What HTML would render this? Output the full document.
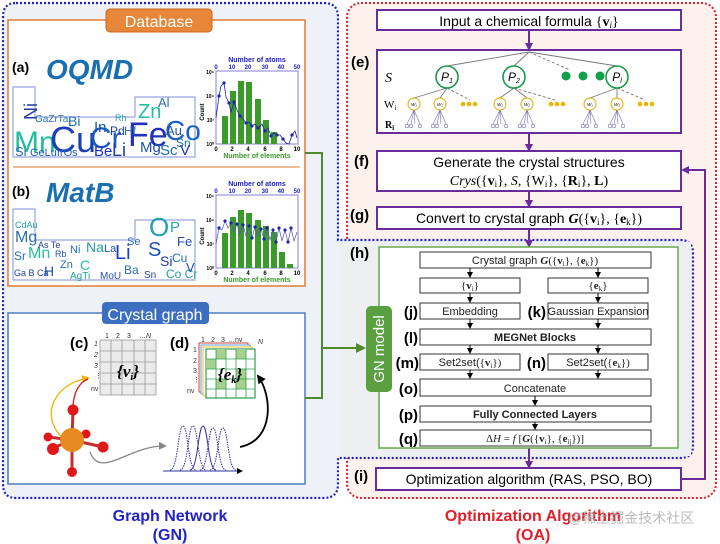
<!DOCTYPE html>
<html><head><meta charset="utf-8"><style>
html,body{margin:0;padding:0;background:#fff}
svg{display:block}
text{font-family:"Liberation Sans",sans-serif}
.s{font-family:"Liberation Serif",serif}
</style></head><body>
<svg width="720" height="544" viewBox="0 0 720 544" xmlns="http://www.w3.org/2000/svg">
<defs>
<marker id="pa" markerWidth="8" markerHeight="8" refX="6" refY="4" orient="auto" markerUnits="userSpaceOnUse"><path d="M0,0 L8,4 L0,8 z" fill="#6a2c9a"/></marker>
<marker id="ba" markerWidth="6" markerHeight="6" refX="5" refY="3" orient="auto" markerUnits="userSpaceOnUse"><path d="M0,0 L6,3 L0,6 z" fill="#000"/></marker>
<marker id="ga" markerWidth="10" markerHeight="10" refX="8" refY="5" orient="auto" markerUnits="userSpaceOnUse"><path d="M0,0 L10,5 L0,10 z" fill="#4e8a2e"/></marker>
<marker id="gr" markerWidth="8" markerHeight="8" refX="6" refY="4" orient="auto" markerUnits="userSpaceOnUse"><path d="M0,0 L8,4 L0,8 z" fill="#888"/></marker>
<marker id="ye" markerWidth="8" markerHeight="8" refX="6" refY="4" orient="auto" markerUnits="userSpaceOnUse"><path d="M0,0 L8,4 L0,8 z" fill="#f0b400"/></marker>
<marker id="bk" markerWidth="9" markerHeight="9" refX="7" refY="4.5" orient="auto" markerUnits="userSpaceOnUse"><path d="M0,0 L9,4.5 L0,9 z" fill="#000"/></marker>
</defs>
<!-- red OA panel -->
<rect x="347" y="3" width="369" height="495" rx="14" fill="#fcf1ec" stroke="#e0202a" stroke-width="2" stroke-dasharray="2,2"/>
<!-- blue GN panel -->
<path d="M16,3 H324 Q338,3 338,17 V240 H680 Q693,240 693,253 V446 Q693,458 680,458 H338 V484 Q338,498 324,498 H16 Q3,498 3,484 V17 Q3,3 16,3 Z" fill="#eef2f8" stroke="#2323b8" stroke-width="2.2" stroke-dasharray="2,2"/>
<rect x="340" y="242" width="351" height="214" fill="#eeeff1"/>
<!-- Database box -->
<rect x="8" y="20" width="297" height="266" fill="#fff" stroke="#e07b39" stroke-width="1.5"/>
<line x1="13" y1="167" x2="300" y2="167" stroke="#e8a577" stroke-width="1.5"/>
<rect x="106" y="9" width="106" height="23" rx="4" fill="#e8873a" stroke="#c9661c"/>
<text x="159" y="27" font-size="16" fill="#fff" text-anchor="middle">Database</text>
<text x="12" y="72" font-size="14" font-weight="bold">(a)</text>
<text x="46" y="79" font-size="28" font-weight="bold" font-style="italic" fill="#1a6fb0">OQMD</text>
<text x="12" y="196" font-size="14" font-weight="bold">(b)</text>
<text x="46" y="202" font-size="28" font-weight="bold" font-style="italic" fill="#1a6fb0">MatB</text>
<!-- word clouds outline -->
<path d="M13,87 H35 V117 H135 V97 H195 V157 H13 Z" fill="none" stroke="#9aa3e0" stroke-width="1.2"/>
<g font-weight="normal">
<text x="14" y="152" font-size="30" fill="#20c0a0">Mn</text>
<text x="50" y="152" font-size="36" fill="#1c3fb5">Cu</text>
<text x="90" y="148" font-size="30" fill="#1a5cc0">Cr</text>
<text x="128" y="146" font-size="34" fill="#2230c0">Fe</text>
<text x="165" y="140" font-size="28" fill="#1a60c8">Co</text>
<text x="17" y="120" font-size="18" fill="#1f3ca0" transform="rotate(-90 27 110)">Ni</text>
<text x="35" y="122" font-size="10" fill="#2a70b0">GaZrTa</text>
<text x="68" y="126" font-size="14" fill="#1a6fb0">Bi</text>
<text x="94" y="132" font-size="15" fill="#2050b0">In</text>
<text x="110" y="135" font-size="12" fill="#1f3ca0">Pd</text>
<text x="124" y="135" font-size="12" fill="#2a70b0">Hf</text>
<text x="115" y="121" font-size="9" fill="#26a8a0">Rh</text>
<text x="138" y="118" font-size="20" fill="#20c0a0">Zn</text>
<text x="158" y="107" font-size="13" fill="#2a70b0">Al</text>
<text x="166" y="135" font-size="13" fill="#2050b0">Au</text>
<text x="176" y="147" font-size="12" fill="#1a6fb0">Sn</text>
<text x="15" y="156" font-size="13" fill="#2a70b0">Si</text>
<text x="30" y="156" font-size="11" fill="#1a5cc0">GeLuIrOs</text>
<text x="94" y="156" font-size="15" fill="#2230c0">Be</text>
<text x="112" y="156" font-size="18" fill="#1f3ca0">Li</text>
<text x="140" y="152" font-size="15" fill="#2050b0">Mg</text>
<text x="160" y="155" font-size="15" fill="#1a6fb0">Sc</text>
<text x="180" y="155" font-size="15" fill="#2230c0">V</text>
</g>
<path d="M13,209 H35 V240 H135 V220 H195 V280 H13 Z" fill="none" stroke="#9aa3e0" stroke-width="1.2"/>
<g>
<text x="15" y="242" font-size="16" fill="#2a70b0">Mg</text>
<text x="15" y="228" font-size="9" fill="#20a0a0">CdAu</text>
<text x="14" y="260" font-size="12" fill="#2a70b0">Sr</text>
<text x="28" y="258" font-size="16" fill="#20c0a0">Mn</text>
<text x="55" y="257" font-size="9" fill="#2050b0">Rb</text>
<text x="38" y="248" font-size="9" fill="#1f3ca0">As Te</text>
<text x="70" y="253" font-size="11" fill="#2a70b0">Ni</text>
<text x="86" y="252" font-size="14" fill="#20a0a0">Na</text>
<text x="104" y="252" font-size="11" fill="#2050b0">La</text>
<text x="115" y="259" font-size="20" fill="#1c3fb5">Li</text>
<text x="127" y="245" font-size="11" fill="#2a70b0">Se</text>
<text x="148" y="256" font-size="20" fill="#2050b0">S</text>
<text x="149" y="236" font-size="26" fill="#20a0b0">O</text>
<text x="170" y="232" font-size="15" fill="#26a8a0">P</text>
<text x="177" y="246" font-size="13" fill="#2050b0">Fe</text>
<text x="172" y="262" font-size="12" fill="#2a70b0">Cu</text>
<text x="160" y="266" font-size="14" fill="#1f3ca0">Si</text>
<text x="14" y="276" font-size="9" fill="#1f3ca0">Ga B Ca</text>
<text x="44" y="276" font-size="14" fill="#2050b0">H</text>
<text x="60" y="268" font-size="11" fill="#2a70b0">Zn</text>
<text x="80" y="270" font-size="14" fill="#20c0a0">C</text>
<text x="70" y="279" font-size="10" fill="#20a0a0">AgTi</text>
<text x="100" y="279" font-size="10" fill="#2050b0">MoU</text>
<text x="124" y="274" font-size="12" fill="#2a70b0">Ba</text>
<text x="144" y="278" font-size="10" fill="#1f3ca0">Sn</text>
<text x="166" y="278" font-size="12" fill="#20a0a0">Co Cr</text>
<text x="186" y="272" font-size="13" fill="#2050b0">V</text>
</g>
<!-- charts -->
<g id="c1">
<rect x="216" y="71" width="82" height="73" fill="#fff" stroke="#8080d0" stroke-width="1"/>
<text x="257" y="62" font-size="7" font-weight="bold" fill="#2020c0" text-anchor="middle">Number of atoms</text>
<text x="216" y="69" font-size="6" fill="#2020c0" font-weight="bold" text-anchor="middle">0</text>
<text x="232" y="69" font-size="6" fill="#2020c0" font-weight="bold" text-anchor="middle">10</text>
<text x="248" y="69" font-size="6" fill="#2020c0" font-weight="bold" text-anchor="middle">20</text>
<text x="265" y="69" font-size="6" fill="#2020c0" font-weight="bold" text-anchor="middle">30</text>
<text x="281" y="69" font-size="6" fill="#2020c0" font-weight="bold" text-anchor="middle">40</text>
<text x="297" y="69" font-size="6" fill="#2020c0" font-weight="bold" text-anchor="middle">50</text>
<text x="257" y="158" font-size="7" font-weight="bold" fill="#3a9a2a" text-anchor="middle">Number of elements</text>
<text x="216" y="151" font-size="6" font-weight="bold" text-anchor="middle">0</text><text x="232" y="151" font-size="6" font-weight="bold" text-anchor="middle">2</text><text x="248" y="151" font-size="6" font-weight="bold" text-anchor="middle">4</text><text x="265" y="151" font-size="6" font-weight="bold" text-anchor="middle">6</text><text x="281" y="151" font-size="6" font-weight="bold" text-anchor="middle">8</text><text x="297" y="151" font-size="6" font-weight="bold" text-anchor="middle">10</text>
<text x="204" y="112" font-size="6" font-weight="bold" transform="rotate(-90 204 112)" text-anchor="middle">Count</text>
<g font-size="5" font-weight="bold" text-anchor="end"><text x="214" y="146">10⁰</text><text x="214" y="122">10²</text><text x="214" y="98">10⁴</text><text x="214" y="74">10⁶</text></g>
<g fill="#3a9a2a"><rect x="222" y="116" width="6" height="28"/><rect x="230" y="91" width="6" height="53"/><rect x="238" y="81" width="6" height="63"/><rect x="246" y="82" width="6" height="62"/><rect x="255" y="99" width="6" height="45"/><rect x="263" y="120" width="6" height="24"/><rect x="271" y="132" width="6" height="12"/></g>
<polyline points="216,118 219,96 221,86 224,83 226,97 229,103 231,112 234,102 237,110 240,116 243,119 246,123 249,122 252,126 255,124 258,128 262,124 265,131 268,128 271,136 274,133 277,135 280,135 283,139 286,143 289,144 292,135 295,131 297,138" fill="none" stroke="#2222aa" stroke-width="0.8"/>
<g fill="#2222aa"><circle cx="219" cy="96" r="1.6"/><circle cx="224" cy="83" r="1.6"/><circle cx="229" cy="103" r="1.6"/><circle cx="234" cy="102" r="1.6"/><circle cx="240" cy="116" r="1.6"/><circle cx="246" cy="123" r="1.6"/><circle cx="252" cy="126" r="1.6"/><circle cx="258" cy="128" r="1.6"/><circle cx="265" cy="131" r="1.6"/><circle cx="271" cy="136" r="1.6"/><circle cx="277" cy="135" r="1.6"/><circle cx="283" cy="139" r="1.6"/><circle cx="292" cy="135" r="1.6"/></g>
</g>
<g transform="translate(0,124)">
<rect x="216" y="71" width="82" height="73" fill="#fff" stroke="#8080d0" stroke-width="1"/>
<text x="257" y="62" font-size="7" font-weight="bold" fill="#2020c0" text-anchor="middle">Number of atoms</text>
<text x="216" y="69" font-size="6" fill="#2020c0" font-weight="bold" text-anchor="middle">0</text><text x="232" y="69" font-size="6" fill="#2020c0" font-weight="bold" text-anchor="middle">10</text><text x="248" y="69" font-size="6" fill="#2020c0" font-weight="bold" text-anchor="middle">20</text><text x="265" y="69" font-size="6" fill="#2020c0" font-weight="bold" text-anchor="middle">30</text><text x="281" y="69" font-size="6" fill="#2020c0" font-weight="bold" text-anchor="middle">40</text><text x="297" y="69" font-size="6" fill="#2020c0" font-weight="bold" text-anchor="middle">50</text>
<text x="257" y="158" font-size="7" font-weight="bold" fill="#3a9a2a" text-anchor="middle">Number of elements</text>
<text x="216" y="151" font-size="6" font-weight="bold" text-anchor="middle">0</text><text x="232" y="151" font-size="6" font-weight="bold" text-anchor="middle">2</text><text x="248" y="151" font-size="6" font-weight="bold" text-anchor="middle">4</text><text x="265" y="151" font-size="6" font-weight="bold" text-anchor="middle">6</text><text x="281" y="151" font-size="6" font-weight="bold" text-anchor="middle">8</text><text x="297" y="151" font-size="6" font-weight="bold" text-anchor="middle">10</text>
<text x="204" y="112" font-size="6" font-weight="bold" transform="rotate(-90 204 112)" text-anchor="middle">Count</text>
<g font-size="5" font-weight="bold" text-anchor="end"><text x="214" y="146">10⁰</text><text x="214" y="122">10²</text><text x="214" y="98">10⁴</text><text x="214" y="74">10⁶</text></g>
<g fill="#3a9a2a"><rect x="222" y="109" width="6" height="35"/><rect x="230" y="93" width="6" height="51"/><rect x="238" y="86" width="6" height="58"/><rect x="246" y="89" width="6" height="55"/><rect x="255" y="96" width="6" height="48"/><rect x="263" y="102" width="6" height="42"/><rect x="271" y="108" width="6" height="36"/><rect x="279" y="128" width="6" height="16"/><rect x="287" y="140" width="6" height="4"/></g>
<polyline points="216,120 219,104 222,106 225,97 228,104 231,99 234,108 237,100 240,110 243,101 246,112 249,102 252,114 255,103 258,112 261,105 264,115 267,104 270,116 273,106 276,118 279,104 282,117 285,106 288,118 291,104 294,117 297,108" fill="none" stroke="#5555bb" stroke-width="0.7"/>
<g fill="#2222aa"><circle cx="219" cy="104" r="1.6"/><circle cx="225" cy="97" r="1.6"/><circle cx="231" cy="99" r="1.6"/><circle cx="237" cy="100" r="1.6"/><circle cx="243" cy="101" r="1.6"/><circle cx="249" cy="102" r="1.6"/><circle cx="255" cy="103" r="1.6"/><circle cx="261" cy="105" r="1.6"/><circle cx="267" cy="104" r="1.6"/><circle cx="273" cy="106" r="1.6"/><circle cx="279" cy="104" r="1.6"/><circle cx="285" cy="106" r="1.6"/><circle cx="291" cy="104" r="1.6"/><circle cx="252" cy="114" r="1.6"/><circle cx="264" cy="115" r="1.6"/><circle cx="276" cy="118" r="1.6"/><circle cx="288" cy="118" r="1.6"/></g>
</g>
<!-- Crystal graph box -->
<rect x="8" y="313" width="297" height="171" fill="#fff" stroke="#4a7cc4" stroke-width="1.5"/>
<rect x="102" y="302" width="107" height="22" rx="4" fill="#3c6fbf"/>
<text x="155" y="320" font-size="16" fill="#fff" text-anchor="middle">Crystal graph</text>
<text x="70" y="348" font-size="15" font-weight="bold">(c)</text>
<text x="170" y="348" font-size="15" font-weight="bold">(d)</text>
<g font-size="7" fill="#333"><text x="105" y="338">1</text><text x="116" y="338">2</text><text x="127" y="338">3</text><text x="139" y="338">…</text><text x="146" y="338" font-style="italic">N</text><text x="94" y="346" font-style="italic">1</text><text x="94" y="357" font-style="italic">2</text><text x="94" y="368" font-style="italic">3</text><text x="95" y="378">⋮</text><text x="91" y="391">nv</text></g>
<rect x="100" y="340" width="56" height="55" fill="#ebebeb" stroke="#999" stroke-width="0.8"/>
<g stroke="#999" stroke-width="0.8"><line x1="111" y1="340" x2="111" y2="395"/><line x1="122" y1="340" x2="122" y2="395"/><line x1="134" y1="340" x2="134" y2="395"/><line x1="145" y1="340" x2="145" y2="395"/><line x1="100" y1="351" x2="156" y2="351"/><line x1="100" y1="362" x2="156" y2="362"/><line x1="100" y1="373" x2="156" y2="373"/><line x1="100" y1="384" x2="156" y2="384"/></g>
<text x="128" y="377" class="s" font-size="17" font-style="italic" font-weight="bold" text-anchor="middle">{v<tspan font-size="10" dy="3">i</tspan><tspan dy="-3">}</tspan></text>
<g font-size="7" fill="#333"><text x="201" y="342">1</text><text x="211" y="342">2</text><text x="221" y="342">3</text><text x="228" y="342">…</text><text x="235" y="342">nv</text><text x="258" y="344" font-style="italic">N</text><text x="193" y="352">1</text><text x="193" y="363">2</text><text x="193" y="373">3</text><text x="193" y="382">⋮</text><text x="187" y="393">nv</text></g>
<rect x="199" y="343" width="49" height="49" fill="#fff" stroke="#d04040"/>
<rect x="201" y="345" width="49" height="49" fill="#fff" stroke="#60a0d8"/>
<rect x="203" y="347" width="49" height="49" fill="#fff" stroke="#e8c040"/>
<rect x="206" y="349" width="49" height="49" fill="#fff" stroke="#30a050" stroke-width="1.2"/>
<g fill="#a8d090"><rect x="216" y="349" width="10" height="10"/><rect x="236" y="349" width="10" height="10"/><rect x="206" y="359" width="10" height="10"/><rect x="236" y="369" width="10" height="10"/><rect x="216" y="379" width="10" height="10"/><rect x="236" y="379" width="10" height="10"/></g>
<g stroke="#30a050" stroke-width="0.8"><line x1="216" y1="349" x2="216" y2="398"/><line x1="226" y1="349" x2="226" y2="398"/><line x1="236" y1="349" x2="236" y2="398"/><line x1="246" y1="349" x2="246" y2="398"/><line x1="206" y1="359" x2="255" y2="359"/><line x1="206" y1="369" x2="255" y2="369"/><line x1="206" y1="379" x2="255" y2="379"/><line x1="206" y1="389" x2="255" y2="389"/></g>
<text x="230" y="380" class="s" font-size="17" font-style="italic" font-weight="bold" text-anchor="middle">{e<tspan font-size="10" dy="3">k</tspan><tspan dy="-3">}</tspan></text>
<!-- molecule -->
<path d="M65,440 C40,420 50,385 88,378" fill="none" stroke="#f0b400" stroke-width="1.3" marker-end="url(#ye)"/>
<path d="M73,408 C73,392 80,382 88,379" fill="none" stroke="#d02020" stroke-width="1.3"/>
<path d="M90,452 C100,480 130,445 165,446" fill="none" stroke="#888" stroke-width="1.3" marker-end="url(#gr)"/>
<path d="M240,447 C275,440 272,395 258,376" fill="none" stroke="#000" stroke-width="1.8" marker-end="url(#bk)"/>
<g stroke="#c03030" stroke-width="3"><line x1="72" y1="440" x2="73" y2="410"/><line x1="72" y1="440" x2="48" y2="437"/><line x1="72" y1="440" x2="86" y2="435"/><line x1="72" y1="440" x2="53" y2="448"/><line x1="72" y1="440" x2="103" y2="447"/><line x1="72" y1="440" x2="72" y2="472"/></g>
<g fill="#e01818"><circle cx="73" cy="410" r="5.5"/><circle cx="48" cy="437" r="4.5"/><circle cx="86" cy="434" r="4.5"/><circle cx="53" cy="449" r="6"/><circle cx="103" cy="447" r="5.5"/><circle cx="72" cy="472" r="5"/></g>
<circle cx="72" cy="440" r="12" fill="#e88a20"/>
<g fill="none" stroke="#3030a0" stroke-width="1" stroke-dasharray="1.5,1">
<path d="M170,470 C178,470 178,426 183,426 C188,426 188,470 196,470"/>
<path d="M180,470 C188,470 188,426 193,426 C198,426 198,470 206,470"/>
<path d="M190,470 C198,470 198,426 203,426 C208,426 208,470 216,470" stroke-dasharray="none"/>
<path d="M200,470 C208,470 208,428 213,428 C218,428 218,470 226,470"/>
<path d="M210,470 C218,470 218,428 223,428 C228,428 228,470 236,470"/>
</g>
<line x1="163" y1="471" x2="242" y2="471" stroke="#3030a0" stroke-width="1" marker-end="url(#ba)"/>
<!-- green connectors -->
<polyline points="305,153 322,153 322,398 305,398" fill="none" stroke="#4e8a2e" stroke-width="2"/>
<line x1="322" y1="348" x2="364" y2="348" stroke="#4e8a2e" stroke-width="2" marker-end="url(#ga)"/>
<!-- right column -->
<g fill="#fff" stroke="#6a2c9a" stroke-width="2">
<rect x="377" y="10" width="304" height="20"/>
<rect x="377" y="50" width="304" height="83"/>
<rect x="377" y="151" width="304" height="40"/>
<rect x="377" y="207" width="304" height="22"/>
<rect x="376" y="468" width="305" height="22"/>
</g>
<text x="529" y="26" font-size="14" text-anchor="middle">Input a chemical formula <tspan class="s">{<tspan font-weight="bold">v</tspan><tspan font-size="9" font-style="italic" dy="2">i</tspan><tspan dy="-2">}</tspan></tspan></text>
<text x="529" y="167" font-size="14" text-anchor="middle">Generate the crystal structures</text>
<text x="529" y="185" font-size="14" class="s" text-anchor="middle"><tspan font-style="italic">Crys</tspan>({<tspan font-weight="bold">v</tspan><tspan font-size="9" dy="2">i</tspan><tspan dy="-2">}, </tspan><tspan font-style="italic">S</tspan>, {W<tspan font-size="9" dy="2">i</tspan><tspan dy="-2">}, {</tspan><tspan font-weight="bold">R</tspan><tspan font-size="9" dy="2">i</tspan><tspan dy="-2">}, </tspan><tspan font-weight="bold">L</tspan>)</text>
<text x="529" y="223" font-size="14" text-anchor="middle">Convert to crystal graph <tspan class="s" font-weight="bold" font-style="italic">G</tspan><tspan class="s">({<tspan font-weight="bold">v</tspan><tspan font-size="9" dy="2">i</tspan><tspan dy="-2">}, {</tspan><tspan font-weight="bold">e</tspan><tspan font-size="9" dy="2">k</tspan><tspan dy="-2">})</tspan></tspan></text>
<text x="529" y="484" font-size="14" text-anchor="middle">Optimization algorithm (RAS, PSO, BO)</text>
<g font-size="15" font-weight="bold"><text x="351" y="67">(e)</text><text x="354" y="166">(f)</text><text x="350" y="220">(g)</text><text x="350" y="258">(h)</text><text x="354" y="481">(i)</text></g>
<!-- purple arrows -->
<g stroke="#6a2c9a" stroke-width="2" fill="none">
<line x1="529" y1="30" x2="529" y2="49" marker-end="url(#pa)"/>
<line x1="529" y1="133" x2="529" y2="150" marker-end="url(#pa)"/>
<line x1="529" y1="191" x2="529" y2="206" marker-end="url(#pa)"/>
<line x1="529" y1="229" x2="529" y2="246" marker-end="url(#pa)"/>
<line x1="529" y1="448" x2="529" y2="467" marker-end="url(#pa)"/>
<polyline points="681,479 705,479 705,170 683,170" marker-end="url(#pa)"/>
</g>
<!-- tree e -->
<g stroke="#777" stroke-width="0.9" fill="none">
<line x1="529" y1="52" x2="447" y2="66"/><line x1="529" y1="52" x2="514" y2="66"/><line x1="529" y1="52" x2="617" y2="66"/><line x1="529" y1="52" x2="570" y2="70" stroke-dasharray="3,2"/>
<line x1="447" y1="88" x2="414" y2="98"/><line x1="447" y1="88" x2="440" y2="98"/><line x1="447" y1="88" x2="470" y2="100" stroke-dasharray="3,2"/>
<line x1="514" y1="88" x2="500" y2="98"/><line x1="514" y1="88" x2="527" y2="98"/><line x1="514" y1="88" x2="555" y2="100" stroke-dasharray="3,2"/>
<line x1="617" y1="88" x2="590" y2="98"/><line x1="617" y1="88" x2="617" y2="98"/><line x1="617" y1="88" x2="645" y2="100" stroke-dasharray="3,2"/>
</g>
<text x="385" y="82" class="s" font-size="14" font-style="italic">S</text>
<text x="384" y="108" class="s" font-size="11">W<tspan font-size="7" dy="2">i</tspan></text>
<text x="385" y="128" class="s" font-size="10" font-weight="bold">R<tspan font-size="7" dy="2">i</tspan></text>
<g fill="#fff" stroke="#1a9a4a" stroke-width="1.6"><circle cx="447" cy="77" r="11"/><circle cx="514" cy="77" r="11"/><circle cx="617" cy="77" r="11"/></g>
<g class="s" font-size="12" font-style="italic" text-anchor="middle"><text x="447" y="81">P<tspan font-size="7" dy="2">1</tspan></text><text x="514" y="81">P<tspan font-size="7" dy="2">2</tspan></text><text x="617" y="81">P<tspan font-size="7" dy="2">l</tspan></text></g>
<g fill="#10a04a"><circle cx="566" cy="76" r="4.5"/><circle cx="583" cy="76" r="4.5"/><circle cx="600" cy="76" r="4.5"/></g>
<g fill="#fff" stroke="#e0b820" stroke-width="1.2"><circle cx="414" cy="104" r="6"/><circle cx="440" cy="104" r="6"/><circle cx="500" cy="104" r="6"/><circle cx="527" cy="104" r="6"/><circle cx="590" cy="104" r="6"/><circle cx="617" cy="104" r="6"/></g>
<g class="s" font-size="4.5" font-style="italic" text-anchor="middle"><text x="414" y="106">W₁</text><text x="440" y="106">W₂</text><text x="500" y="106">W₁</text><text x="527" y="106">W₂</text><text x="590" y="106">W₁</text><text x="617" y="106">W₂</text></g>
<g fill="#f0b400"><circle cx="463" cy="104" r="2.3"/><circle cx="469" cy="104" r="2.3"/><circle cx="475" cy="104" r="2.3"/><circle cx="551" cy="104" r="2.3"/><circle cx="557" cy="104" r="2.3"/><circle cx="563" cy="104" r="2.3"/><circle cx="640" cy="104" r="2.3"/><circle cx="646" cy="104" r="2.3"/><circle cx="652" cy="104" r="2.3"/></g>
<g stroke="#8070b0" stroke-width="0.6" fill="none">
<path d="M414,110 L407,124 M414,110 L411,124 M414,110 L415,124 M414,110 L420,124 M440,110 L433,124 M440,110 L437,124 M440,110 L441,124 M440,110 L446,124 M500,110 L493,124 M500,110 L497,124 M500,110 L501,124 M500,110 L506,124 M527,110 L520,124 M527,110 L524,124 M527,110 L528,124 M527,110 L533,124 M590,110 L583,124 M590,110 L587,124 M590,110 L591,124 M590,110 L596,124 M617,110 L610,124 M617,110 L614,124 M617,110 L618,124 M617,110 L623,124"/>
<g stroke="#7060b0"><circle cx="407" cy="126" r="1.8"/><circle cx="411" cy="126" r="1.8"/><circle cx="420" cy="126" r="1.8"/><circle cx="433" cy="126" r="1.8"/><circle cx="437" cy="126" r="1.8"/><circle cx="446" cy="126" r="1.8"/><circle cx="493" cy="126" r="1.8"/><circle cx="497" cy="126" r="1.8"/><circle cx="506" cy="126" r="1.8"/><circle cx="520" cy="126" r="1.8"/><circle cx="524" cy="126" r="1.8"/><circle cx="533" cy="126" r="1.8"/><circle cx="583" cy="126" r="1.8"/><circle cx="587" cy="126" r="1.8"/><circle cx="596" cy="126" r="1.8"/><circle cx="610" cy="126" r="1.8"/><circle cx="614" cy="126" r="1.8"/><circle cx="623" cy="126" r="1.8"/></g>
</g>
<!-- h box -->
<rect x="379" y="247" width="299" height="201" fill="#fff" stroke="#6aa84f" stroke-width="1.5"/>
<rect x="366" y="306" width="26" height="86" rx="5" fill="#5aa040"/>
<text x="384" y="349" font-size="15" fill="#fff" text-anchor="middle" transform="rotate(-90 384 349)" dy="0">GN model</text>
<g fill="#fff" stroke="#333" stroke-width="1">
<rect x="420" y="252" width="231" height="16"/>
<rect x="420" y="278" width="100" height="15"/><rect x="548" y="278" width="100" height="15"/>
<rect x="420" y="303" width="100" height="16"/><rect x="548" y="303" width="100" height="16"/>
<rect x="420" y="329" width="231" height="16"/>
<rect x="420" y="354" width="100" height="16"/><rect x="548" y="354" width="100" height="16"/>
<rect x="420" y="379" width="231" height="17"/>
<rect x="420" y="406" width="231" height="16"/>
<rect x="420" y="430" width="231" height="16"/>
</g>
<g stroke="#000" stroke-width="1">
<line x1="470" y1="268" x2="470" y2="277" marker-end="url(#ba)"/><line x1="598" y1="268" x2="598" y2="277" marker-end="url(#ba)"/>
<line x1="470" y1="293" x2="470" y2="302" marker-end="url(#ba)"/><line x1="598" y1="293" x2="598" y2="302" marker-end="url(#ba)"/>
<line x1="470" y1="319" x2="470" y2="328" marker-end="url(#ba)"/><line x1="598" y1="319" x2="598" y2="328" marker-end="url(#ba)"/>
<line x1="470" y1="345" x2="470" y2="353" marker-end="url(#ba)"/><line x1="598" y1="345" x2="598" y2="353" marker-end="url(#ba)"/>
<line x1="470" y1="370" x2="470" y2="378" marker-end="url(#ba)"/><line x1="598" y1="370" x2="598" y2="378" marker-end="url(#ba)"/>
<line x1="535" y1="396" x2="535" y2="405" marker-end="url(#ba)"/>
<line x1="535" y1="422" x2="535" y2="429" marker-end="url(#ba)"/>
</g>
<g font-size="11" text-anchor="middle" fill="#222">
<text x="535" y="264">Crystal graph <tspan class="s" font-weight="bold" font-style="italic">G</tspan><tspan class="s">({<tspan font-weight="bold">v</tspan><tspan font-size="7" dy="2">i</tspan><tspan dy="-2">}, {</tspan><tspan font-weight="bold">e</tspan><tspan font-size="7" dy="2">k</tspan><tspan dy="-2">})</tspan></tspan></text>
<text x="470" y="289" class="s">{<tspan font-weight="bold">v</tspan><tspan font-size="7" dy="2">i</tspan><tspan dy="-2">}</tspan></text>
<text x="598" y="289" class="s">{<tspan font-weight="bold">e</tspan><tspan font-size="7" dy="2">k</tspan><tspan dy="-2">}</tspan></text>
<text x="470" y="315">Embedding</text>
<text x="598" y="315">Gaussian Expansion</text>
<text x="535" y="341" font-weight="bold">MEGNet Blocks</text>
<text x="470" y="366">Set2set(<tspan class="s">{<tspan font-weight="bold">v</tspan><tspan font-size="7" dy="2">i</tspan><tspan dy="-2">})</tspan></tspan></text>
<text x="598" y="366">Set2set(<tspan class="s">{<tspan font-weight="bold">e</tspan><tspan font-size="7" dy="2">k</tspan><tspan dy="-2">})</tspan></tspan></text>
<text x="535" y="392">Concatenate</text>
<text x="535" y="418" font-weight="bold">Fully Connected Layers</text>
<text x="535" y="442" class="s">Δ<tspan font-style="italic">H</tspan> = <tspan font-style="italic">f</tspan> [<tspan font-weight="bold" font-style="italic">G</tspan>({<tspan font-weight="bold">v</tspan><tspan font-size="7" dy="2">i</tspan><tspan dy="-2">}, {</tspan><tspan font-weight="bold">e</tspan><tspan font-size="7" dy="2">ij</tspan><tspan dy="-2">})]</tspan></text>
</g>
<g font-size="15" font-weight="bold" text-anchor="end"><text x="418" y="317">(j)</text><text x="546" y="317">(k)</text><text x="418" y="343">(l)</text><text x="419" y="368">(m)</text><text x="546" y="368">(n)</text><text x="418" y="394">(o)</text><text x="418" y="420">(p)</text><text x="418" y="444">(q)</text></g>
<!-- titles -->
<text x="170" y="521" font-size="16" font-weight="bold" fill="#2222cc" text-anchor="middle">Graph Network</text>
<text x="170" y="540" font-size="16" font-weight="bold" fill="#2222cc" text-anchor="middle">(GN)</text>
<text x="533" y="521" font-size="16" font-weight="bold" fill="#e0202a" text-anchor="middle">Optimization Algorithm</text>
<text x="533" y="540" font-size="16" font-weight="bold" fill="#e0202a" text-anchor="middle">(OA)</text>
<text x="568" y="523" font-size="14" fill="#aaa" fill-opacity="0.8" font-family="'Liberation Sans','Noto Sans CJK SC',sans-serif">@稀土掘金技术社区</text>
</svg>
</body></html>
